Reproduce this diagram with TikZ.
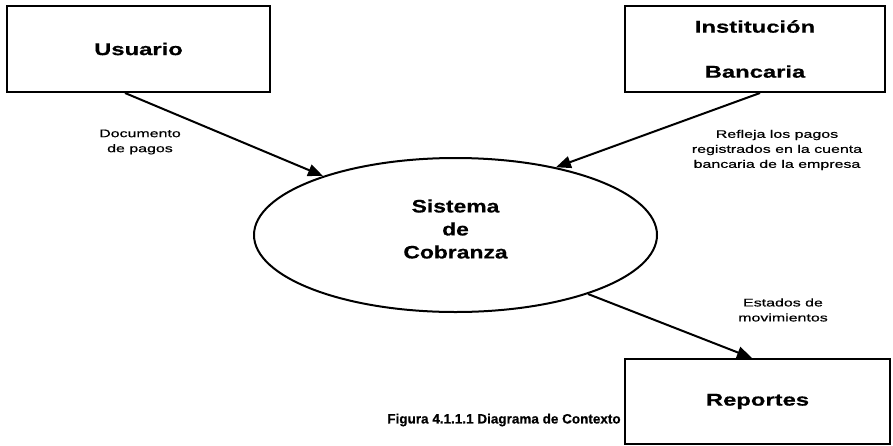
\documentclass[tikz,border=0pt]{standalone}
\usepackage{fontspec}
\setmainfont{Liberation Sans}
\newfontfamily\capfont[FakeBold=0.6]{Liberation Sans}
\newfontfamily\boxfont[FakeStretch=1.4,FakeBold=0.6]{Liberation Sans}
\newfontfamily\ellfont[FakeStretch=1.27,FakeBold=0.6]{Liberation Sans}
\newfontfamily\lblfont[FakeStretch=1.45,FakeBold=0.5]{Liberation Sans}
\usetikzlibrary{shapes.geometric,arrows.meta}
\tikzset{
  entity/.style={draw, line width=2pt, rectangle, inner sep=0pt, align=center,
    font=\boxfont\bfseries\fontsize{17}{45}\selectfont},
  process/.style={draw, line width=2pt, ellipse, inner sep=0pt,
    minimum width=403pt, minimum height=154pt},
  proctext/.style={align=center, inner sep=0pt, font=\ellfont\bfseries\fontsize{18}{23}\selectfont},
  flowlabel/.style={align=center, inner sep=0pt, font=\lblfont\fontsize{11}{15}\selectfont},
  flow/.style={line width=2pt, -{Triangle[length=15pt,width=12pt]}},
  caption/.style={inner sep=0pt, font=\capfont\bfseries\fontsize{13.5}{15}\selectfont}
}
\begin{document}
\begin{tikzpicture}[x=1pt,y=-1pt]
\useasboundingbox (0,0) rectangle (893,445);
\node[entity, minimum width=263pt, minimum height=86pt] (usr) at (138.5,49) {Usuario};
\node[entity, minimum width=260pt, minimum height=86pt] (ban) at (755,49) {Institución\\Bancaria};
\node[entity, minimum width=265pt, minimum height=85pt] (rep) at (757.5,401.5) {Reportes};
\node[process] (sys) at (455.5,235) {};
\node[proctext] (systxt) at (455.5,229) {Sistema\\de\\Cobranza};
\draw[flow] ([xshift=-13.5pt]usr.south) -- (sys.156.3);
\draw[flow] ([xshift=5pt]ban.south) -- (sys.34.6);
\draw[flow] (sys.-24.5) -- ([xshift=-5.5pt]rep.north);
\node[flowlabel] (l1) at (140,142) {Documento\\de pagos};
\node[flowlabel] (l2) at (777,150) {Refleja los pagos\\registrados en la cuenta\\bancaria de la empresa};
\node[flowlabel] (l3) at (783,310) {Estados de\\movimientos};
\node[caption] (cap) at (504,420) {Figura 4.1.1.1 Diagrama de Contexto};
\end{tikzpicture}
\end{document}
